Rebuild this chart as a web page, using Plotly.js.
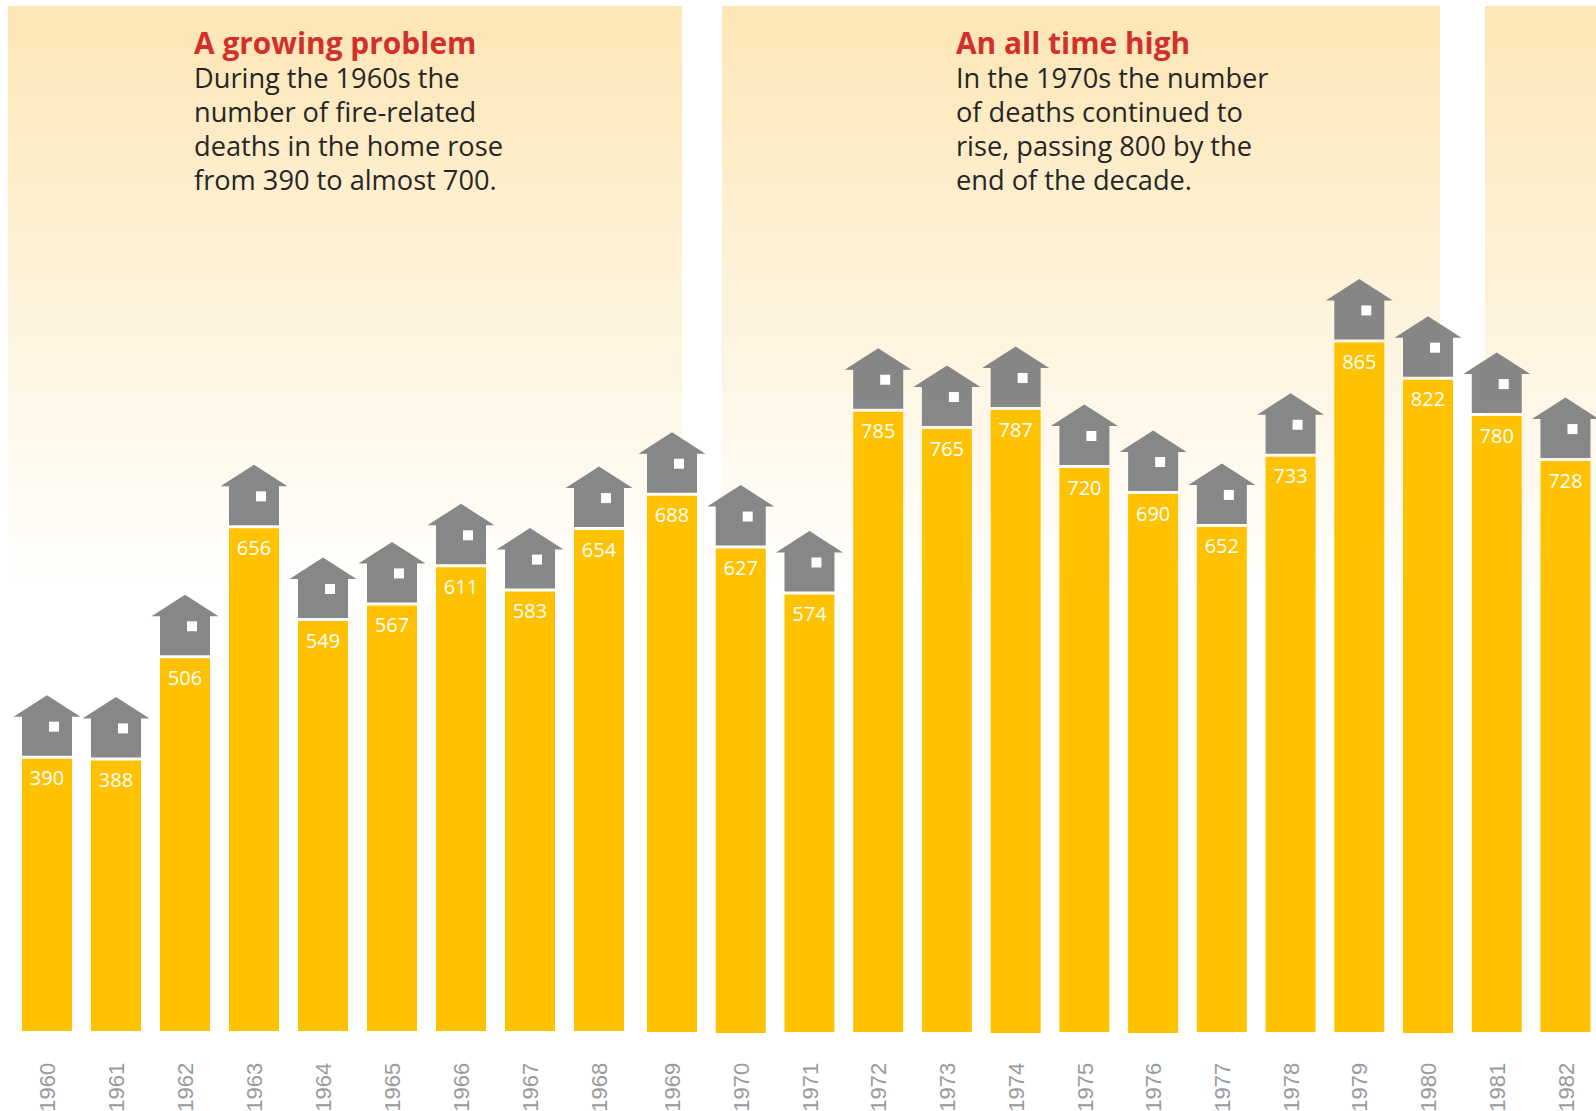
<!DOCTYPE html>
<html><head><meta charset="utf-8">
<script src="https://cdn.plot.ly/plotly-3.0.1.min.js"></script>
<style>html,body{margin:0;padding:0;background:#fff;overflow:hidden}#c{width:1596px;height:1111px}</style>
</head><body><div id="c"></div>
<script>
const years=[1960,1961,1962,1963,1964,1965,1966,1967,1968,1969,1970,1971,1972,1973,1974,1975,1976,1977,1978,1979,1980,1981,1982];
const deaths=[390,388,506,656,549,567,611,583,654,688,627,574,785,765,787,720,690,652,733,865,822,780,728];
const deeperBars=[1970,1974,1976,1980];
const panelHeads=["A growing problem","An all time high"];
const panelLines=[["During the 1960s the","number of fire-related","deaths in the home rose","from 390 to almost 700."],
["In the 1970s the number","of deaths continued to","rise, passing 800 by the","end of the decade."]];

const W=1596,H=1111,PLOT_BOTTOM=1036,PX_PER_DEATH=0.866,PX_PER_UNIT=69;
/* The reference is two pasted sections: bars from 1969 on sit slightly right and higher. */
const xAt=yr=>yr<=1968?yr:1969+(672-668)/PX_PER_UNIT+(yr-1969)*68.73/PX_PER_UNIT;
const xFromPx=p=>1960+(p-47)/PX_PER_UNIT;
const yFromPx=p=>390+(758.7-p)/PX_PER_DEATH;
const dx=p=>p/PX_PER_UNIT, dy=p=>p/PX_PER_DEATH;
const lift=yr=>yr>=1969?dy(4.9):0;
const xs=years.map(xAt);
const tops=years.map((yr,i)=>deaths[i]+lift(yr));
const bases=years.map(yr=>yFromPx(yr<1969?1031:(deeperBars.includes(yr)?1033:1032)));

function panel(l,r){
  const t=6,m=592,rows=[],z=[];
  for(let p=t;p<=m;p+=4){rows.push(yFromPx(p+2));const f=(p+2-t)/(m-t);z.push([1-f]);}
  const a=xFromPx(l),b=xFromPx(r);
  return {type:'heatmap',x0:(a+b)/2,dx:b-a,y:rows,z:z,zmin:0,zmax:1,zsmooth:false,
    colorscale:[[0,'#ffffff'],[1,'#fde6b5']],showscale:false,hoverinfo:'skip'};
}
const traces=[panel(8,682),panel(722,1440),panel(1485,1596)];

traces.push({type:'bar',x:xs,y:tops.map((t,i)=>t-bases[i]),base:bases,width:50/PX_PER_UNIT,marker:{color:'#fec200',line:{width:0}},hoverinfo:'skip'});

const hx=[],hy=[];
const outline=[[-25,3],[-25,42],[-33.5,42],[0,63.5],[33.5,42],[25,42],[25,3],[-25,3]];
xs.forEach((x,i)=>{
  outline.forEach(p=>{hx.push(x+dx(p[0]));hy.push(tops[i]+dy(p[1]));});
  hx.push(null);hy.push(null);
});
traces.push({type:'scatter',mode:'lines',x:hx,y:hy,fill:'toself',fillcolor:'rgba(121,122,124,0.9)',line:{width:0},hoverinfo:'skip'});
traces.push({type:'scatter',mode:'markers',x:xs.map(x=>x+dx(7)),y:tops.map(v=>v+dy(32)),
  marker:{symbol:'square',size:10,color:'#ffffff',line:{width:0}},hoverinfo:'skip'});
traces.push({type:'scatter',mode:'text',x:xs,y:tops.map(v=>v-dy(21.5)),text:deaths.map(String),
  textposition:'middle center',textfont:{family:'Open Sans',size:20,color:'#ffffff'},hoverinfo:'skip'});

const ann=[];
const textX=[192,954];
const headY=42,lineYs=[77,111,145,179];
panelHeads.forEach((t,k)=>{
  ann.push({xref:'x',yref:'y',x:xFromPx(textX[k]),y:yFromPx(headY),text:'<b>'+t+'</b>',showarrow:false,xanchor:'left',yanchor:'middle',
    font:{family:'Open Sans',size:29.9,color:'#d2302d'}});
  panelLines[k].forEach((t2,j)=>ann.push({xref:'x',yref:'y',x:xFromPx(textX[k]),y:yFromPx(lineYs[j]),text:t2,showarrow:false,xanchor:'left',yanchor:'middle',
    font:{family:'Open Sans',size:27.2,color:'#262626'}}));
});

Plotly.newPlot('c',traces,{
  width:W,height:H,margin:{l:0,r:0,t:0,b:H-PLOT_BOTTOM,pad:0},
  paper_bgcolor:'#ffffff',plot_bgcolor:'#ffffff',showlegend:false,barmode:'overlay',
  xaxis:{type:'linear',range:[xFromPx(0),xFromPx(W)],tickmode:'array',tickvals:xs.map(x=>x+dx(1)),ticktext:years.map(String),
    tickangle:-90,tickfont:{family:'Liberation Sans',size:22,color:'#999a9c'},ticks:'outside',ticklen:17,tickcolor:'rgba(0,0,0,0)',
    showgrid:false,zeroline:false,showline:false,fixedrange:true},
  yaxis:{range:[yFromPx(PLOT_BOTTOM),yFromPx(0)],showticklabels:false,ticks:'',showgrid:false,zeroline:false,showline:false,fixedrange:true},
  annotations:ann
},{displayModeBar:false,staticPlot:true});
</script></body></html>
